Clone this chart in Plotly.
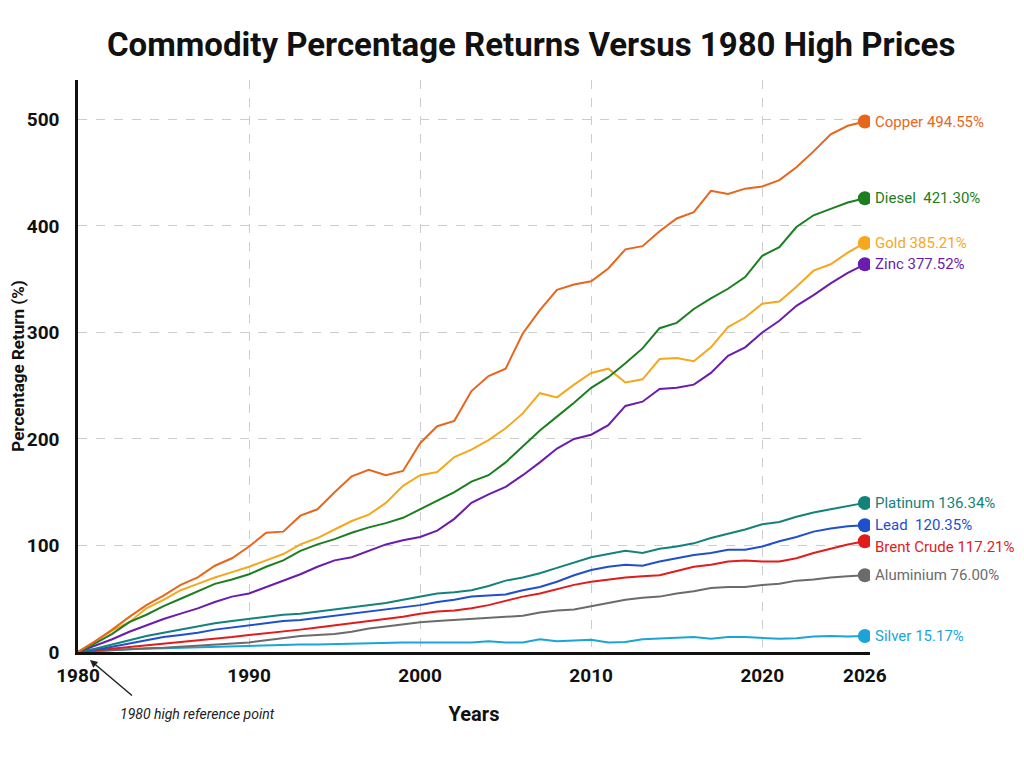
import plotly.graph_objects as go

years = list(range(1980, 2027))

copper = [0, 10, 21, 33, 44, 53, 63, 70, 81, 88, 99, 112, 113, 128, 134, 150, 165, 171, 166, 170,
          196, 212, 217, 245, 259, 266, 299, 321, 340, 345, 348, 360, 378, 381, 395, 407, 413, 433,
          430, 435, 437, 443, 455, 470, 486, 494, 498]
diesel = [0, 8, 17, 28, 35, 43, 50, 57, 64, 68, 73, 80, 86, 95, 101, 106, 112, 117, 121, 126,
          134, 142, 150, 160, 166, 178, 193, 208, 221, 234, 248, 258, 271, 285, 304, 309, 322, 332,
          341, 352, 372, 380, 399, 410, 416, 422, 426]
gold = [0, 10, 20, 28, 41, 49, 58, 64, 70, 75, 80, 86, 92, 101, 107, 115, 123, 129, 140, 156,
        166, 169, 183, 190, 199, 210, 224, 243, 239, 251, 262, 266, 253, 256, 275, 276, 273, 286,
        305, 314, 327, 329, 343, 358, 364, 375, 384]
zinc = [0, 6, 12, 19, 25, 31, 36, 41, 47, 52, 55, 61, 67, 73, 80, 86, 89, 95, 101, 105,
        108, 114, 125, 140, 148, 155, 166, 178, 191, 200, 204, 213, 231, 235, 247, 248, 251, 262,
        278, 286, 300, 311, 325, 335, 346, 356, 364]
platinum = [0, 3, 7, 11, 15, 18, 21, 24, 27, 29, 31, 33, 35, 36, 38, 40, 42, 44, 46, 49,
            52, 55, 56, 58, 62, 67, 70, 74, 79, 84, 89, 92, 95, 93, 97, 99, 102, 107, 111, 115,
            120, 122, 127, 131, 134, 137, 140]
lead = [0, 2, 5, 8, 11, 14, 16, 18, 21, 23, 25, 27, 29, 30, 32, 34, 36, 38, 40, 42,
        44, 47, 49, 52, 53, 54, 58, 61, 66, 72, 77, 80, 82, 81, 85, 88, 91, 93, 96, 96,
        99, 104, 108, 113, 116, 118, 119]
brent = [0, 1.5, 3, 4.5, 6, 8, 9.5, 11, 12.5, 14, 16, 17.5, 19, 21, 23, 25, 27, 29, 31, 33,
         36, 38, 39, 41, 44, 48, 52, 55, 59, 63, 66, 68, 70, 71, 72, 76, 80, 82, 85, 86,
         85, 85, 88, 93, 97, 101, 104]
aluminium = [0, 1, 2, 3, 3.5, 4, 5, 6, 7, 8, 9, 11, 13, 15, 16, 17, 19, 22, 24, 26,
             28, 29, 30, 31, 32, 33, 34, 37, 39, 40, 43, 46, 49, 51, 52, 55, 57, 60, 61, 61,
             63, 64, 67, 68, 70, 71, 72]
silver = [0, 1, 2, 2.5, 3, 3.5, 4, 4.5, 5, 5.5, 6, 6, 6.5, 7, 7, 7.5, 8, 8, 8.5, 9,
          9, 9, 8.5, 9, 10, 9, 9, 12, 10, 11, 11.5, 9, 9.5, 12, 12.5, 13, 14, 12.5, 14, 14,
          13, 12.5, 13, 14.5, 15, 14.5, 15]

# name, values, end label, colour
series = [
    ("Copper", copper, "Copper 494.55%", "#E8661C"),
    ("Diesel", diesel, "Diesel  421.30%", "#1B7F22"),
    ("Gold", gold, "Gold 385.21%", "#F5A81C"),
    ("Zinc", zinc, "Zinc 377.52%", "#6A1CB0"),
    ("Platinum", platinum, "Platinum 136.34%", "#14827A"),
    ("Lead", lead, "Lead  120.35%", "#1E4FCC"),
    ("Brent Crude", brent, "Brent Crude 117.21%", "#E21B1B"),
    ("Aluminium", aluminium, "Aluminium 76.00%", "#6B6B6B"),
    ("Silver", silver, "Silver 15.17%", "#1AA5D6"),
]
label_yshift = {"Brent Crude": -6}

FONT = "Roboto, Liberation Sans, sans-serif"

fig = go.Figure()
for name, vals, label, color in series[::-1]:
    fig.add_trace(go.Scatter(
        x=years, y=vals, mode="lines", name=name,
        line=dict(color=color, width=2), showlegend=False
    ))
    fig.add_trace(go.Scatter(
        x=[years[-1]], y=[vals[-1]], mode="markers",
        marker=dict(color=color, size=14), showlegend=False
    ))
    fig.add_annotation(
        x=years[-1], y=vals[-1], text=label, showarrow=False,
        xanchor="left", xshift=8, yshift=label_yshift.get(name, 0),
        font=dict(family=FONT, size=15, color=color)
    )

# reference-point arrow and note below the axis
fig.add_annotation(
    x=1980.7, y=-0.014, yref="paper", ax=45, ay=38, text=" ", showarrow=True,
    arrowhead=2, arrowsize=1, arrowwidth=1.5, arrowcolor="#222222"
)
fig.add_annotation(
    x=1987.0, y=-0.125, yref="paper", text="<i>1980 high reference point</i>", showarrow=False,
    font=dict(family=FONT, size=14, color="#222222")
)

# the page body adds an 8px margin, so the figure is 8px smaller than the window
fig.update_layout(
    width=1008, height=752,
    title=dict(text="<b>Commodity Percentage Returns Versus 1980 High Prices</b>",
               x=0.519, y=0.967, xanchor="center",
               font=dict(family=FONT, size=33, color="#111111")),
    plot_bgcolor="white", paper_bgcolor="white",
    margin=dict(l=70, r=146, t=72, b=108),
    font=dict(family=FONT, color="#111111"),
)
fig.update_xaxes(
    range=[1980, 2026.3], automargin=False,
    tickvals=[1980, 1990, 2000, 2010, 2020, 2026],
    ticktext=["<b>1980</b>", "<b>1990</b>", "<b>2000</b>", "<b>2010</b>", "<b>2020</b>", "<b>2026</b>"],
    tickfont=dict(size=19), showgrid=False, zeroline=False, ticklabelstandoff=4,
    showline=True, linecolor="#111111", linewidth=2.5,
    minor=dict(tickvals=[1990, 2000, 2010, 2020], showgrid=True,
               gridcolor="#cccccc", griddash="dash", gridwidth=1, ticklen=0),
    title=dict(text="<b>Years</b>", font=dict(size=20), standoff=22),
)
fig.update_yaxes(
    range=[0, 537], automargin=False,
    tickvals=[0, 100, 200, 300, 400, 500],
    ticktext=["<b>0</b>", "<b>100</b>", "<b>200</b>", "<b>300</b>", "<b>400</b>", "<b>500</b>"],
    tickfont=dict(size=19), showgrid=True, gridcolor="#cccccc", griddash="dash",
    zeroline=False, showline=True, linecolor="#111111", linewidth=2.5, ticks="",
    ticklabelstandoff=12,
    title=dict(text="<b>Percentage Return (%)</b>", font=dict(size=17), standoff=10),
)

fig.write_html("out.html")
